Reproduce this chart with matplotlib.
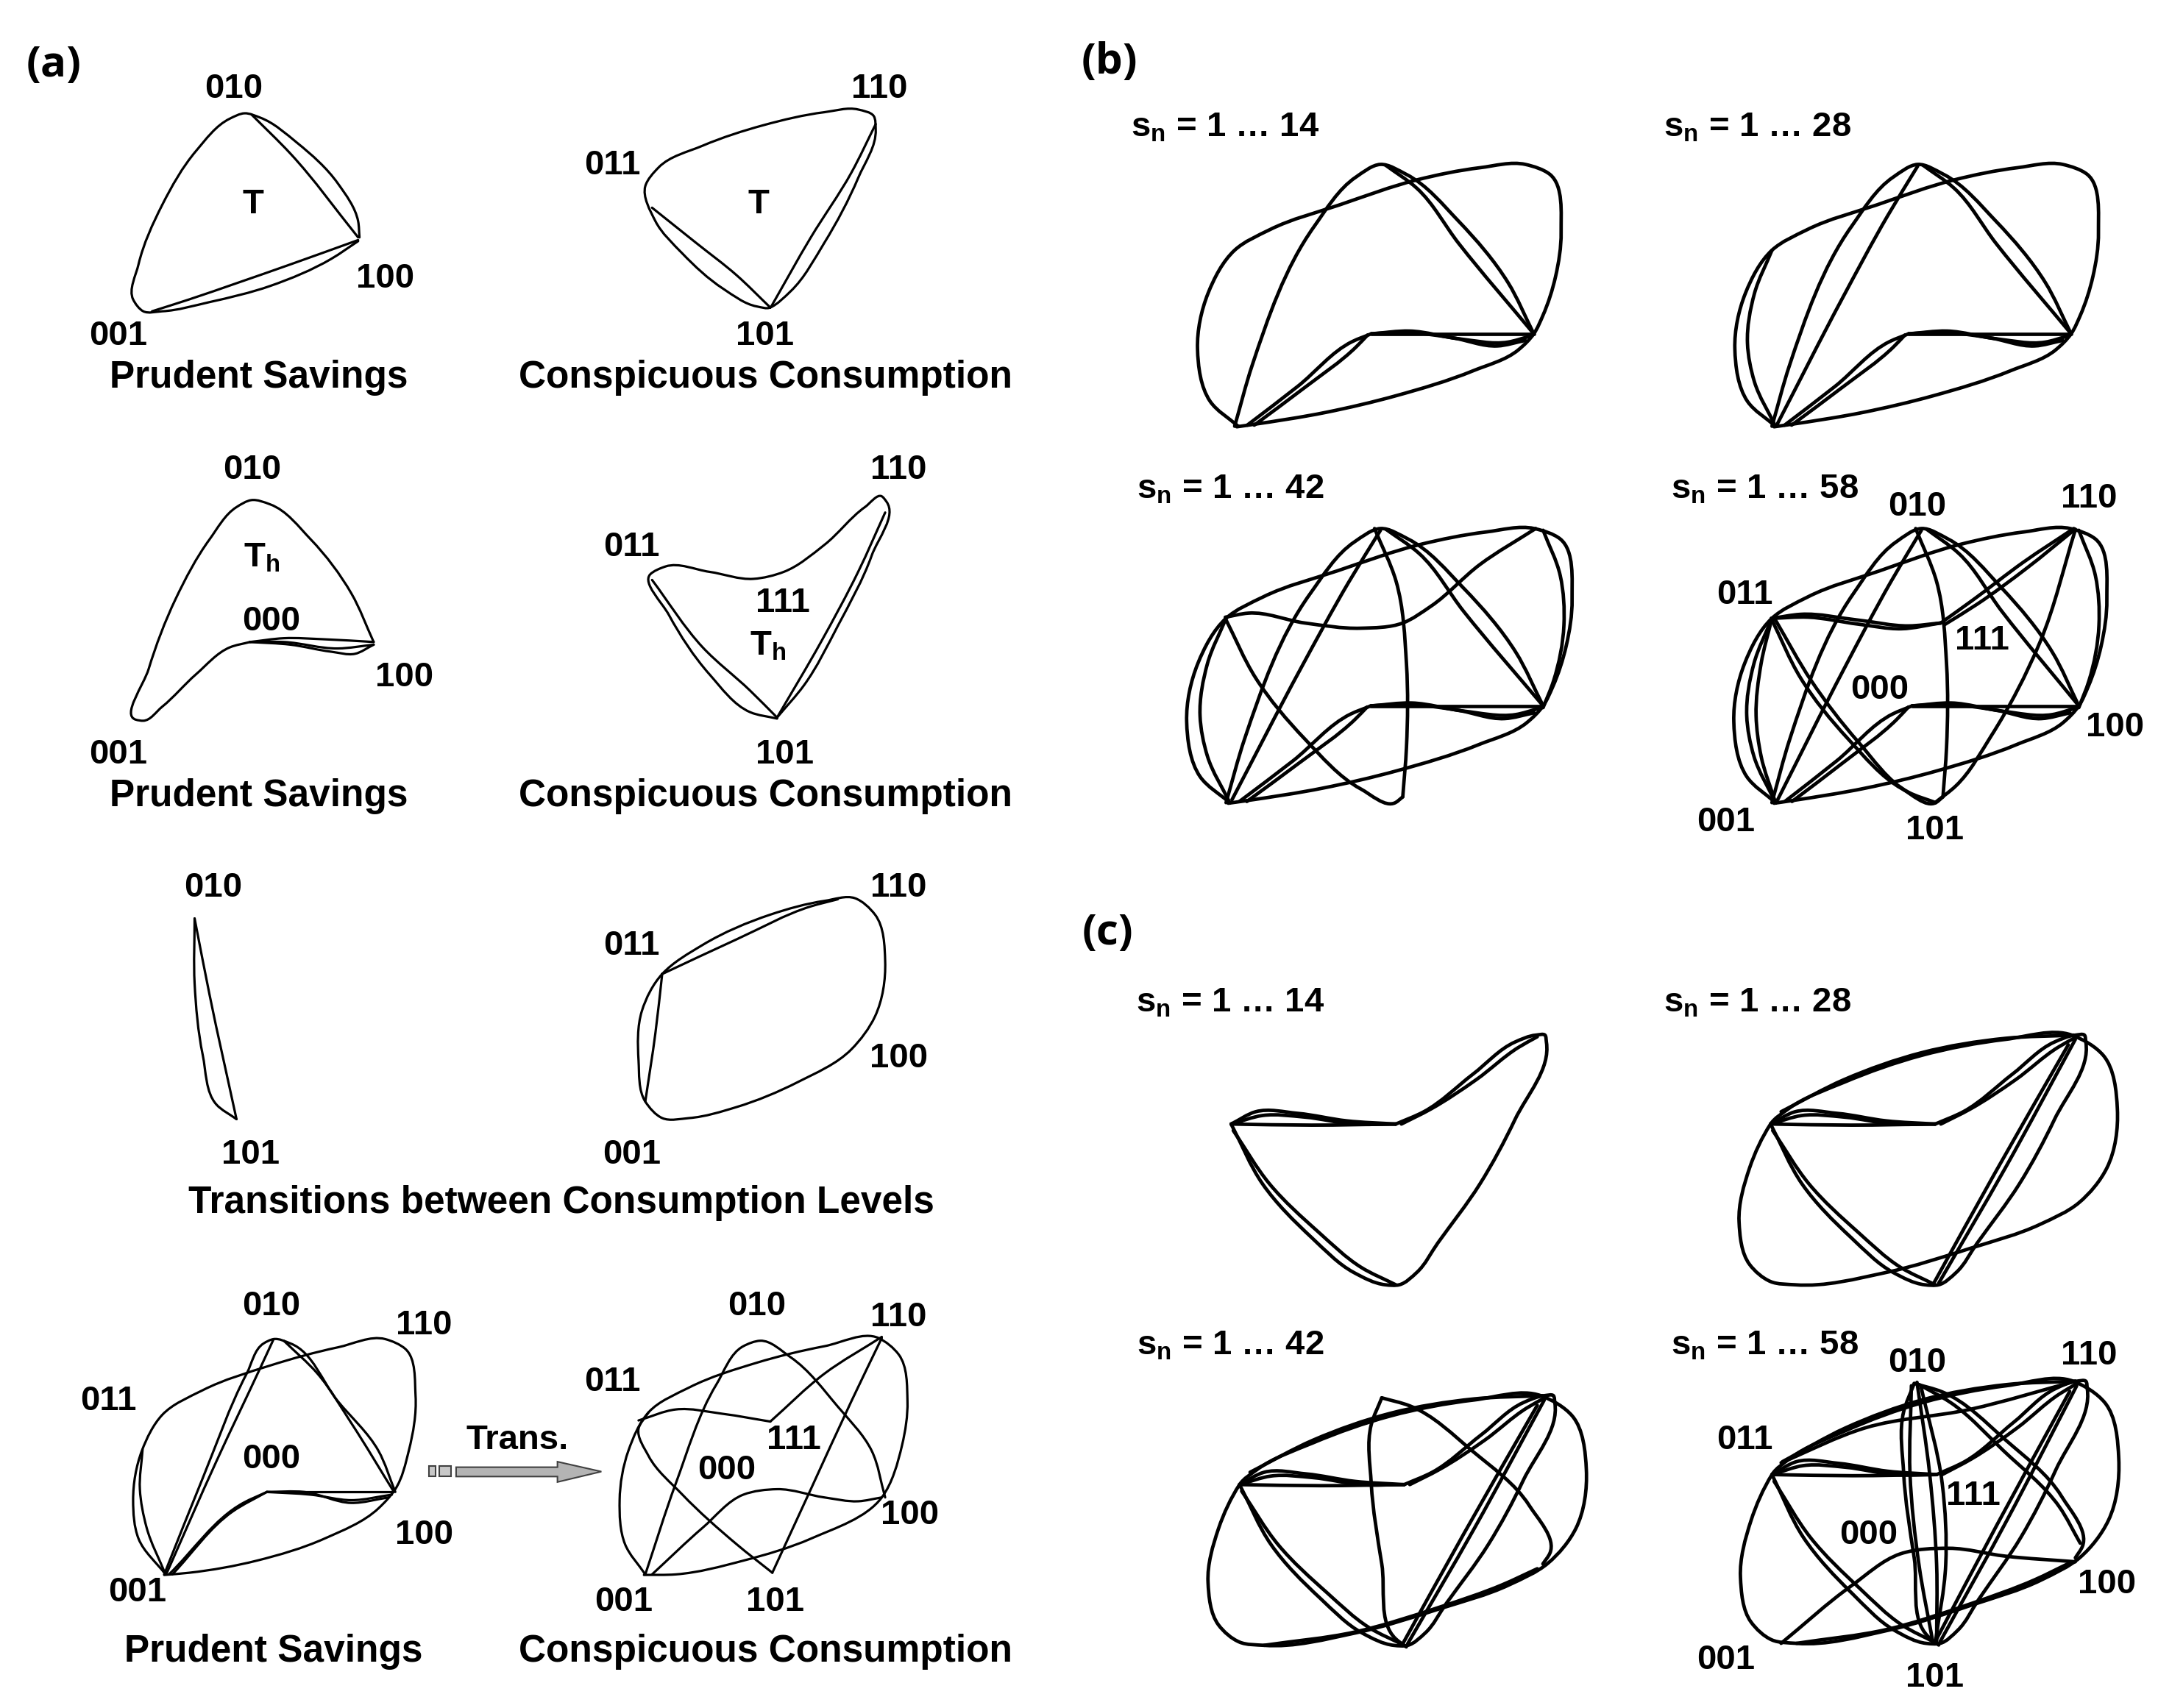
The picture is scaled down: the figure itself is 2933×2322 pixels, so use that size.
import numpy as np
import matplotlib
matplotlib.use('Agg')
import matplotlib.pyplot as plt
from matplotlib.path import Path
from matplotlib.patches import PathPatch, Polygon, Rectangle

plt.rcParams['font.family'] = ['Liberation Sans', 'DejaVu Sans']
plt.rcParams['mathtext.fontset'] = 'custom'
plt.rcParams['mathtext.bf'] = 'Liberation Sans:bold'
plt.rcParams['mathtext.rm'] = 'Liberation Sans:bold'
plt.rcParams['mathtext.default'] = 'bf'

# ---------- panel (a) curves ----------
A1_PRUDENT = [
    [(530,447),(490,480),(400,530),(310,560),(240,577),(212,577),(197,555),(205,490),(240,380),(290,280),(340,220),(362,210),(385,218),(440,265),(500,340),(530,410),(532,440)],
    [(372,212),(430,285),(530,440)],
    [(530,445),(430,490),(350,525),(280,555),(225,577)],
]
A2_CONSP = [
    [(1140,570),(1120,568),(1070,535),(1010,470),(970,410),(955,345),(975,310),(1040,270),(1130,232),(1220,208),(1270,203),(1293,215),(1296,240),(1270,330),(1220,450),(1170,540),(1140,570)],
    [(1296,230),(1260,320),(1200,440),(1141,569)],
    [(965,385),(1030,450),(1090,510),(1140,570)],
]
A3_PRUDENT_H = [
    [(370,1190),(340,1200),(290,1250),(240,1310),(212,1336),(201,1334),(220,1240),(260,1110),(310,1000),(350,940),(372,927),(400,935),(460,1000),(520,1100),(553,1190)],
    [(553,1190),(480,1185),(420,1183),(370,1190)],
    [(553,1195),(525,1212),(490,1208),(430,1195),(370,1190)],
    [(553,1195),(500,1202),(420,1190),(370,1190)],
]
A4_CONSP_H = [
    [(1150,1332),(1110,1320),(1050,1250),(990,1140),(962,1065),(985,1050),(1050,1060),(1115,1073),(1160,1060),(1220,1010),(1280,940),(1305,920),(1312,930),(1290,1030),(1240,1160),(1190,1270),(1150,1330)],
    [(1310,950),(1270,1060),(1215,1190),(1150,1330)],
    [(965,1075),(1040,1200),(1110,1280),(1150,1330)],
]
A5_TRANS_LEFT = [
    [(288,132),(288,250),(300,380),(320,470),(350,497)],
    [(288,132),(310,270),(350,497)],
]
A6_TRANS_RIGHT = [
    [(980,233),(1040,180),(1140,125),(1220,100),(1265,95),(1295,125),(1310,210),(1295,310),(1260,370),(1180,430),(1090,475),(1020,495),(980,495),(955,465),(945,390),(950,300),(980,233)],
    [(980,233),(1090,170),(1200,110),(1240,97)],
    [(980,233),(970,340),(955,465)],
]
A7_COMBINED = [
    [(245,1325),(205,1260),(197,1190),(210,1100),(240,1035),(300,990),(400,945),(500,912),(570,897),(600,915),(615,1000),(605,1100),(585,1170),(560,1205),(480,1260),(380,1300),(280,1322),(243,1326)],
    [(245,1325),(217,1240),(207,1170),(211,1098)],
    [(243,1325),(300,1150),(365,960),(390,905),(405,897),(430,905),(500,1010),(560,1100),(585,1175)],
    [(247,1322),(320,1120),(385,950),(405,897)],
    [(420,900),(470,960),(520,1050),(583,1175)],
    [(580,1175),(395,1175)],
    [(395,1175),(450,1175),(520,1195),(575,1185)],
    [(395,1175),(460,1180),(520,1190),(580,1180)],
    [(395,1175),(360,1195),(250,1325)],
    [(395,1175),(345,1210),(255,1325)],
]
A8_COMBINED = [
    [(955,1325),(925,1270),(917,1190),(930,1100),(960,1030),(1020,985),(1120,940),(1220,910),(1300,895),(1330,925),(1343,1010),(1335,1090),(1305,1185),(1200,1260),(1100,1300),(1000,1325),(953,1326)],
    [(955,1325),(1000,1160),(1060,980),(1100,910),(1125,900),(1170,930),(1240,1020),(1290,1100),(1310,1185)],
    [(960,1030),(945,1060),(960,1110),(1010,1180),(1090,1270),(1143,1322)],
    [(1143,1322),(1200,1170),(1260,1010),(1305,895)],
    [(945,1045),(1000,1025),(1070,1033),(1140,1047)],
    [(1140,1047),(1220,960),(1305,893)],
    [(965,1325),(1040,1240),(1100,1180),(1150,1170),(1220,1185),(1270,1192),(1305,1185)],
]

# ---------- panel (b) curves ----------
B_OUTER = [(255,770),(215,725),(197,630),(212,530),(250,452),(300,415),(400,370),(510,325),(600,303),(665,297),(700,315),(716,420),(708,500),(690,570),(677,603),(655,632),(590,670),(480,715),(380,745),(275,767),(253,771)]
B_FG = [(250,770),(275,660),(363,410),(423,320),(458,297),(495,315),(570,400),(640,510),(677,603)]
B_F2 = [(258,765),(350,540),(415,390),(458,300)]
B_G2 = [(465,298),(510,340),(570,440),(677,603)]
B_H = [(677,603),(445,603)]
B_H2 = [(445,603),(490,600),(560,610),(625,625),(665,615)]
B_H3 = [(445,603),(500,598),(570,612),(640,618),(670,608)]
B_I = [(445,603),(418,617),(340,698),(268,768)]
B_I2 = [(440,605),(424,626),(348,702),(278,768)]
B_L2 = [(255,770),(225,690),(215,620),(225,530),(250,452)]
B_L3 = [(255,770),(235,690),(228,620),(235,530),(250,452)]
B_S0 = [(249,450),(280,443),(356,460),(431,469),(488,460),(526,431),(592,359),(667,297)]
B_S1 = [(250,452),(290,445),(370,455),(440,465),(485,460)]
B_S2 = [(250,452),(300,450),(370,462),(430,470),(485,460)]
B_T1 = [(485,460),(530,420),(600,355),(670,297)]
B_T2 = [(490,463),(535,428),(605,365),(672,298)]
B_W = [(249,452),(290,555),(356,660),(431,746),(478,770),(488,760)]
B_W2 = [(255,455),(305,560),(370,665),(440,752),(478,770)]
B_X = [(450,297),(479,388),(493,531),(493,674),(488,760)]
B_R1 = [(677,300),(700,378),(705,464),(691,560),(677,606)]
B_V = [(672,300),(623,493),(555,655),(506,741),(477,770)]

B_INNER = [B_H, B_H2, B_H3, B_I, B_I2]
B1_ARCS = [B_OUTER] + B_INNER + [B_FG, B_G2]
B2_ARCS = B1_ARCS + [B_F2, B_L2]
B3_ARCS = B2_ARCS + [B_S0, B_W, B_X, B_R1]
B4_ARCS = B2_ARCS + [B_L3, B_S1, B_S2, B_T1, B_T2, B_W, B_W2, B_X, B_R1, B_V]

# ---------- panel (c) curves (frame of the "1 ... 28" drawing) ----------
C_A1 = [(1015,478),(1050,455),(1110,458),(1180,472),(1250,478)]
C_A2 = [(1015,478),(1060,462),(1120,465),(1190,478),(1250,478)]
C_A3 = [(1015,478),(1130,480),(1250,478)]
C_B2 = [(1258,478),(1300,450),(1365,395),(1425,335),(1452,315)]
C_LOOP = [(1015,478),(1060,590),(1130,690),(1190,755),(1235,778),(1255,778),(1280,755),(1310,700),(1370,590),(1420,470),(1465,325),(1463,312),(1450,312),(1420,325),(1360,385),(1290,455),(1250,478)]
C_C1 = [(1450,320),(1350,560),(1255,775)]
C_C2 = [(1440,330),(1335,570),(1248,775)]
C_D2 = [(1018,490),(1070,590),(1140,680),(1200,745),(1250,778)]
C_E_OUTER = [(1015,478),(1040,450),(1120,400),(1230,350),(1350,320),(1445,312),(1490,350),(1510,450),(1495,560),(1455,625),(1400,665),(1300,710),(1180,755),(1050,778),(1015,772),(985,740),(970,660),(985,560),(1015,478)]
C_E_TOP2 = [(1030,455),(1120,395),(1230,345),(1350,318),(1448,312)]
C_E_BOTTOM2 = [(1440,635),(1390,665),(1300,707),(1180,753),(1050,778)]
C_Y = [(1218,316),(1203,366),(1203,476),(1218,626),(1238,766),(1253,781)]
C_Z = [(1218,316),(1258,331),(1348,416),(1428,516),(1458,606),(1448,626)]
C_Z2 = [(1225,318),(1270,350),(1345,435),(1425,535),(1455,600)]
C_Q = [(1028,778),(1128,676),(1198,619),(1268,609),(1348,623),(1448,633)]
C_Y2 = [(1228,323),(1258,494),(1263,638),(1248,778)]
C_Y3 = [(1222,314),(1240,476),(1250,638),(1250,778)]
C_Y4 = [(1214,320),(1212,476),(1225,640),(1245,778)]
C_U = [(1028,457),(1148,395),(1298,362),(1448,312)]

C_CORE = [C_A1, C_A2, C_A3, C_B2, C_LOOP, C_D2]
C1_ARCS = C_CORE
C2_ARCS = C_CORE + [C_C1, C_C2, C_E_OUTER, C_E_TOP2]
C3_ARCS = C2_ARCS + [C_E_BOTTOM2, C_Y, C_Z]
C4_ARCS = C3_ARCS + [C_Z2, C_Q, C_Y2, C_Y3, C_Y4, C_U]

# ---------- texts: (x, y, string) in the shrunk-picture frame ----------
NODE_LABELS = [
    (170,63,'010'),(639,63,'110'),(445,119,'011'),(184,147,'T'),(551,147,'T'),(280,201,'100'),(86,243,'001'),(556,243,'101'),
    (183,340,'010'),(653,340,'110'),(459,396,'011'),(190,404,r'$\mathbf{T_h}$'),(197,450,'000'),(569,437,'111'),(558,468,r'$\mathbf{T_h}$'),(294,491,'100'),(86,547,'001'),(570,547,'101'),
    (155,644,'010'),(653,644,'110'),(459,686,'011'),(653,768,'100'),(182,838,'101'),(459,838,'001'),
    (197,948,'010'),(308,962,'110'),(79,1017,'011'),(197,1059,'000'),(308,1114,'100'),(100,1156,'001'),
    (550,948,'010'),(653,956,'110'),(445,1003,'011'),(577,1045,'111'),(528,1067,'000'),(661,1100,'100'),(453,1163,'001'),(563,1163,'101'),
    (376,1045,'Trans.'),
    (1393,367,'010'),(1518,361,'110'),(1268,431,'011'),(1440,464,'111'),(1366,500,'000'),(1537,527,'100'),(1254,596,'001'),(1406,602,'101'),
    (1393,989,'010'),(1518,984,'110'),(1268,1045,'011'),(1434,1086,'111'),(1358,1114,'000'),(1531,1150,'100'),(1254,1205,'001'),(1406,1218,'101'),
]
CAPTIONS = [
    (188,273,'Prudent Savings'),(556,273,'Conspicuous Consumption'),
    (188,577,'Prudent Savings'),(556,577,'Conspicuous Consumption'),
    (408,873,'Transitions between Consumption Levels'),
    (199,1199,'Prudent Savings'),(556,1199,'Conspicuous Consumption'),
]
RANGE_LABELS = [
    (890,93,'14'),(1277,93,'28'),(894,356,'42'),(1282,356,'58'),
    (894,729,'14'),(1277,729,'28'),(894,978,'42'),(1282,978,'58'),
]
PANEL_LETTERS = [(39,46,'(a)'),(806,44,'(b)'),(805,677,'(c)')]

W, H = 2933, 2322
K = W / 1568
THIN, THICK = 2.3, 3.4

fig = plt.figure(figsize=(W/100, H/100), dpi=100, facecolor='white')
ax = fig.add_axes([0, 0, 1, 1])
ax.set_xlim(0, W); ax.set_ylim(H, 0); ax.axis('off')

def spline_path(pts):
    p = np.asarray(pts, float)
    if len(p) == 2:
        return Path(p, [Path.MOVETO, Path.LINETO])
    closed = np.allclose(p[0], p[-1])
    d = np.hypot(*np.diff(p, axis=0).T)
    n = len(p)
    m = np.zeros_like(p)
    for i in range(n):
        if closed and i in (0, n-1):
            m[i] = (p[1]-p[-2])/(d[0]+d[-1])
        elif i == 0:
            m[i] = (p[1]-p[0])/d[0]
        elif i == n-1:
            m[i] = (p[-1]-p[-2])/d[-1]
        else:
            # weighted finite difference on chord-length parameter
            m[i] = ((p[i+1]-p[i])/d[i]*d[i-1] + (p[i]-p[i-1])/d[i-1]*d[i])/(d[i]+d[i-1])
    verts, codes = [p[0]], [Path.MOVETO]
    for i in range(n-1):
        verts += [p[i]+m[i]*d[i]/3, p[i+1]-m[i+1]*d[i]/3, p[i+1]]
        codes += [Path.CURVE4]*3
    return Path(np.array(verts), codes)

def draw(arcs, crop, lw, panel=(1, 1, 0, 0, 0, 0)):
    # panel: sx, sy, x0, y0, x1, y1 -> maps (x0,y0) of the arc frame to (x1,y1)
    ox, oy, kx, ky = crop
    sx, sy, x0, y0, x1, y1 = panel
    for arc in arcs:
        a = np.asarray(arc, float)
        u = x1 + (a[:,0]-x0)*sx
        v = y1 + (a[:,1]-y0)*sy
        xy = np.column_stack([ox+u*kx, oy+v*ky])
        ax.add_patch(PathPatch(spline_path(xy), fc='none', ec='black', lw=lw,
                               capstyle='round', joinstyle='round'))

CROP_TOP_L = (0, 0, 1440/1568, 1150/1568)
CROP_BOT_L = (0, 1150, 1440/1568, 1172/1568)
CROP_TOP_R = (1440, 0, 1493/1568, 1180/1568)
CROP_BOT_R = (1440, 1180, 1493/1568, 1142/1568)

for arcs in (A1_PRUDENT, A2_CONSP, A3_PRUDENT_H, A4_CONSP_H):
    draw(arcs, CROP_TOP_L, THIN)
for arcs in (A5_TRANS_LEFT, A6_TRANS_RIGHT, A7_COMBINED, A8_COMBINED):
    draw(arcs, CROP_BOT_L, THIN)

draw(B1_ARCS, CROP_TOP_R, THICK)
draw(B2_ARCS, CROP_TOP_R, THICK, (1, 1, 255, 770, 1022, 770))
draw(B3_ARCS, CROP_TOP_R, THICK, (1.06, 1.047, 255, 770, 243, 1450))
draw(B4_ARCS, CROP_TOP_R, THICK, (1.026, 1.047, 255, 770, 1022, 1450))

draw(C1_ARCS, CROP_BOT_R, THICK, (1, 1, 1015, 478, 245, 478))
draw(C2_ARCS, CROP_BOT_R, THICK)
draw(C3_ARCS, CROP_BOT_R, THICK, (1, 1.0, 1015, 312, 257, 985))
draw(C4_ARCS, CROP_BOT_R, THICK, (1, 1.05, 1015, 312, 1017, 958))

# transition arrow
def to_full(u, v):
    return (CROP_BOT_L[0]+u*CROP_BOT_L[2], CROP_BOT_L[1]+v*CROP_BOT_L[3])
arrow_uv = [(675,1130),(825,1130),(825,1120),(890,1138),(825,1157),(825,1147),(675,1147)]
ax.add_patch(Polygon([to_full(*p) for p in arrow_uv], closed=True, fc='#b4b4b4', ec='#404040', lw=1.5))
for u0, u1 in ((635,645),(650,668)):
    x0, y0 = to_full(u0, 1128); x1, y1 = to_full(u1, 1146)
    ax.add_patch(Rectangle((x0, y0), x1-x0, y1-y0, fc='#c8c8c8', ec='#404040', lw=1.5))

DY = 1.5
for x, y, s in NODE_LABELS:
    ax.text(x*K, (y+DY)*K, s, ha='center', va='center', fontsize=34, fontweight='bold')
for x, y, s in CAPTIONS:
    ax.text(x*K, (y+DY)*K, s, ha='center', va='center', fontsize=37, fontweight='bold')
for x, y, s in RANGE_LABELS:
    ax.text(x*K, y*K, r'$\mathbf{s_n}$ = 1 … ' + s, ha='center', va='center', fontsize=34, fontweight='bold')
for x, y, s in PANEL_LETTERS:
    ax.text(x*K, (y+DY)*K, s, ha='center', va='center', fontsize=42, fontweight='bold',
            family=['Open Sans', 'DejaVu Sans'])

fig.savefig('out.png', dpi=100, facecolor='white')
